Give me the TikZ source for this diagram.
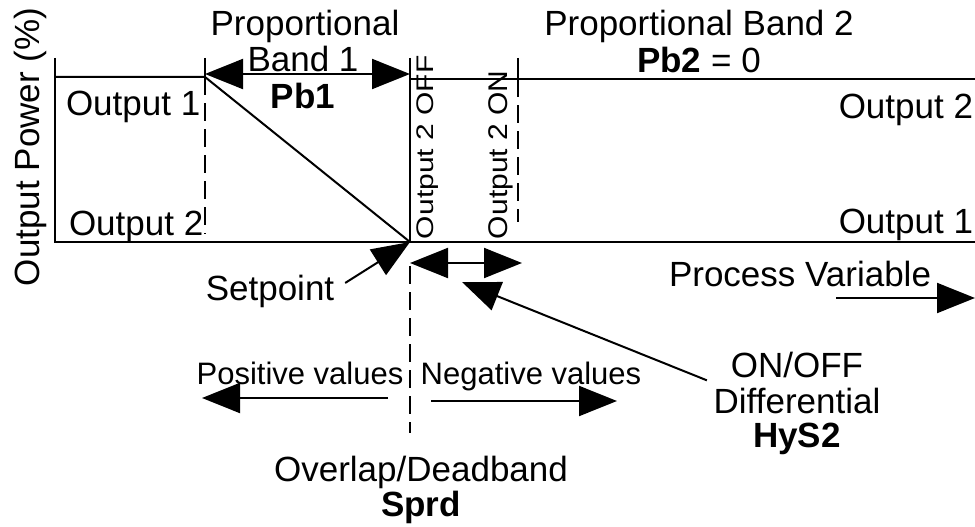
\documentclass[tikz,border=0pt]{standalone}
\usepackage{fontspec}
\setmainfont{Liberation Sans}
\usepackage{tikz}
\usetikzlibrary{arrows.meta,positioning,calc}

\begin{document}
\begin{tikzpicture}[x=1pt,y=-1pt,line width=2pt,
    >={Triangle[length=38pt,width=30pt]},
    lbl/.style={font=\fontsize{35}{40}\selectfont,inner sep=0pt,anchor=base},
    small/.style={font=\fontsize{31}{36}\selectfont,inner sep=0pt,anchor=base},
    side/.style={font=\fontsize{30}{34}\selectfont,inner sep=0pt,rotate=90,anchor=base west},
    guide/.style={line width=1.8pt,dash pattern=on 18pt off 8pt}]
    % frame of the picture
    \useasboundingbox (0,0) rectangle (975,527);
    % corners of the curves
    \coordinate (ytop) at (55,58);
    \coordinate (ybot) at (55,242);
    \coordinate (pbl) at (205,77);
    \coordinate (pbltop) at (205,58);
    \coordinate (pblbot) at (205,234);
    \coordinate (sp) at (410,242);
    \coordinate (offtop) at (410,58);
    \coordinate (offhi) at (410,79);
    \coordinate (hiend) at (975,79);
    \coordinate (loend) at (975,242);
    \coordinate (ontop) at (518,58);
    \coordinate (onbot) at (518,222);
    \coordinate (sdash) at (410,266);
    \coordinate (edash) at (410,433);
    % draw the output 1 curve
    \draw (ytop) -- (ybot) -- (loend);
    \draw (ybot |- pbl) -- (pbl) -- (sp);
    \draw (pbltop) -- (pbl);
    \draw[guide] (pbl) -- (pblbot);
    % draw the output 2 curve
    \draw (offtop) -- (sp);
    \draw (offhi) -- (hiend);
    \draw (ontop) -- (ontop |- offhi);
    \draw[guide] (ontop |- offhi) -- (onbot);
    \draw[guide] (sdash) -- (edash);
    % draw the labels
    \node[lbl,rotate=90,anchor=center] (power) at (30,147) {Output Power (\%)};
    \node[lbl] (prop1) at (305,36) {Proportional};
    \node[lbl] (band1) at (303,72) {Band 1};
    \node[lbl] (pb1) at (303,108) {\bfseries Pb1};
    \node[lbl] (prop2) at (699,36) {Proportional Band 2};
    \node[lbl] (pb2) at (699,73) {\textbf{Pb2} = 0};
    \node[lbl,anchor=base west] (out1l) at (65,115) {Output 1};
    \node[lbl,anchor=base west] (out2l) at (68,235) {Output 2};
    \node[lbl,anchor=base east] (out2r) at (974,118) {Output 2};
    \node[lbl,anchor=base east] (out1r) at (974,233) {Output 1};
    \node[side] (off2) at (433,240) {\scalebox{1}[0.8]{Output 2 OFF}};
    \node[side] (on2) at (507,240) {\scalebox{1}[0.9]{Output 2 ON}};
    \node[lbl] (setpoint) at (270,300) {Setpoint};
    \node[lbl] (pv) at (800,286) {Process Variable};
    \node[small] (pos) at (300,384) {Positive values};
    \node[small] (neg) at (531,384) {Negative values};
    \node[lbl] (onoff) at (797,377) {ON/OFF};
    \node[lbl] (diff) at (797,413) {Differential};
    \node[lbl] (hys) at (797,447) {\bfseries HyS2};
    \node[lbl] (overlap) at (421,481) {Overlap/Deadband};
    \node[lbl] (sprd) at (421,516) {\bfseries Sprd};
    % draw the arrows
    \coordinate (pba) at (205,74);
    \coordinate (pbb) at (410,74);
    \draw[<->] (pba) -- (pbb);
    \coordinate (hya) at (410,263);
    \coordinate (hyb) at (522,263);
    \draw[<->] (hya) -- (hyb);
    \draw[->] ($(setpoint.east)+(10,-8)$) -- (sp);
    \coordinate (hystip) at (462,282);
    \draw[->] ($(onoff.south west)+(-23,2)$) -- (hystip);
    \coordinate (pva) at (836,298);
    \coordinate (pvb) at (975,298);
    \draw[->] (pva) -- (pvb);
    \coordinate (posa) at (388,398);
    \coordinate (posb) at (202,398);
    \draw[->] (posa) -- (posb);
    \coordinate (nega) at (431,401);
    \coordinate (negb) at (617,401);
    \draw[->] (nega) -- (negb);
\end{tikzpicture}
\end{document}
